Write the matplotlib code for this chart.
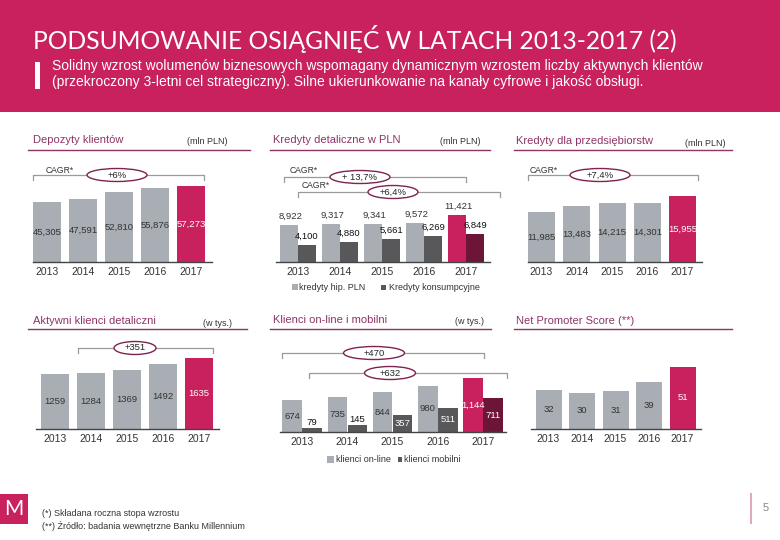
import matplotlib
matplotlib.use('Agg')
import matplotlib.pyplot as plt
from matplotlib import font_manager
from matplotlib.patches import Ellipse, Rectangle
from matplotlib.lines import Line2D

# data
years = ['2013', '2014', '2015', '2016', '2017']
deposits = [45305, 47591, 52810, 55876, 57273]
mortgage = [8922, 9317, 9341, 9572, 11421]
consumer = [4100, 4880, 5661, 6269, 6849]
business = [11985, 13483, 14215, 14301, 15955]
active = [1259, 1284, 1369, 1492, 1635]
online = [674, 735, 844, 980, 1144]
mobile = [79, 145, 357, 511, 711]
nps = [32, 30, 31, 39, 51]

MAG = '#C8215D'
GRAY = '#A8AEB3'
DARK = '#58585A'
MAROON = '#6C1536'
PURPLE = '#8E3468'
TXT = '#333333'

names = {f.name for f in font_manager.fontManager.ttflist}
NARROW = 'Liberation Sans Narrow' if 'Liberation Sans Narrow' in names else 'Liberation Sans'
SANS = 'Liberation Sans'
LIGHT = 'Lato' if 'Lato' in names else 'DejaVu Sans'

VAL = 6.8    # value labels
YEAR = 7.5   # year tick labels

W, H = 780, 540
fig = plt.figure(figsize=(W / 100, H / 100), dpi=100)


def ftext(x, y, s, **kw):
    kw.setdefault('family', NARROW)
    kw.setdefault('va', 'center')
    fig.text(x / W, 1 - y / H, s, **kw)


def fline(xs, ys, **kw):
    fig.add_artist(Line2D([x / W for x in xs], [1 - y / H for y in ys],
                          transform=fig.transFigure, **kw))


def frect(x0, y0, x1, y1, color, z=0):
    fig.add_artist(Rectangle((x0 / W, 1 - y1 / H), (x1 - x0) / W, (y1 - y0) / H,
                             transform=fig.transFigure, color=color, lw=0, zorder=z))


def panel_header(x, y, title, unit, ux, lx0, lx1, ly):
    ftext(x, y, title, fontsize=8, color=PURPLE)
    if unit:
        ftext(ux, y + 2, unit, fontsize=6.5, color=TXT)
    fline([lx0, lx1], [ly, ly], color=PURPLE, lw=1)


def bracket(x0, x1, y, label, cx, ew, cagr=None):
    fline([x0, x0, x1, x1], [y + 5, y, y, y + 5], color='#9A9A9A', lw=0.9)
    fig.add_artist(Ellipse((cx / W, 1 - y / H), ew / W, 13 / H, transform=fig.transFigure,
                           facecolor='white', edgecolor='#7E2352', lw=1, zorder=3))
    ftext(cx, y, label, fontsize=6.8, color='#222222', ha='center', zorder=4)
    if cagr:
        ftext(cagr[0], cagr[1], 'CAGR*', fontsize=6.2, color=TXT)


def bar_axes(left, right, baseline, c0, step, ppu, hpx=120):
    ax = fig.add_axes([left / W, 1 - baseline / H, (right - left) / W, hpx / H])
    ax.set_xlim((left - c0) / step, (right - c0) / step)
    ax.set_ylim(0, hpx / ppu)
    for s in ['top', 'left', 'right']:
        ax.spines[s].set_visible(False)
    ax.spines['bottom'].set_color('#444444')
    ax.spines['bottom'].set_linewidth(1)
    ax.set_yticks([])
    ax.set_xticks(range(len(years)))
    ax.set_xticklabels(years, fontsize=YEAR, family=NARROW, color=TXT)
    ax.tick_params(axis='x', length=0, pad=3.5)
    ax.patch.set_alpha(0)
    return ax


def simple_panel(vals, left, right, baseline, c0, step, bw, ppu, fmt):
    ax = bar_axes(left, right, baseline, c0, step, ppu)
    colors = [GRAY] * (len(vals) - 1) + [MAG]
    ax.bar(range(len(vals)), vals, width=bw / step, color=colors)
    for i, v in enumerate(vals):
        ax.text(i, v / 2, fmt(v), ha='center', va='center', fontsize=VAL, family=NARROW,
                color='white' if i == len(vals) - 1 else TXT)
    return ax


comma = lambda v: f'{v:,}'
plain = lambda v: f'{v}'

# header
frect(0, 0, W, 112, MAG)
ftext(33, 39, 'PODSUMOWANIE OSIĄGNIĘĆ W LATACH 2013-2017 (2)', fontsize=17.7,
      family=LIGHT, color='white')
frect(35, 62, 40, 89, 'white', z=1)
ftext(52, 66, 'Solidny wzrost wolumenów biznesowych wspomagany dynamicznym wzrostem liczby aktywnych klientów',
      fontsize=10, family=SANS, color='white')
ftext(52, 82, '(przekroczony 3-letni cel strategiczny). Silne ukierunkowanie na kanały cyfrowe i jakość obsługi.',
      fontsize=10, family=SANS, color='white')

# Depozyty klientów
panel_header(33, 140, 'Depozyty klientów', '(mln PLN)', 187, 28, 250, 150)
bracket(33, 204, 175, '+6%', 117, 60, cagr=(46, 170))
simple_panel(deposits, 33, 212, 262, 47, 36, 28, 76 / 57273, comma)

# Kredyty detaliczne w PLN
panel_header(273, 140, 'Kredyty detaliczne w PLN', '(mln PLN)', 440, 270, 490, 150)
bracket(284, 466, 177, '+ 13,7%', 360, 60, cagr=(290, 170))
bracket(298, 500, 192, '+6,4%', 393, 50, cagr=(302, 185))
ax = bar_axes(276, 490, 262, 298, 42, 47 / 11421)
off = 9 / 42
bw = 18 / 42
xs = range(len(years))
ax.bar([i - off for i in xs], mortgage, width=bw, color=[GRAY] * 4 + [MAG])
ax.bar([i + off for i in xs], consumer, width=bw, color=[DARK] * 4 + [MAROON])
for i in xs:
    ax.annotate(comma(mortgage[i]), (i - off, mortgage[i]), xytext=(1, 3), textcoords='offset points',
                ha='center', va='bottom', fontsize=VAL, family=NARROW, color=TXT)
    ax.annotate(comma(consumer[i]), (i + off, consumer[i]), xytext=(0, 3), textcoords='offset points',
                ha='center', va='bottom', fontsize=VAL, family=NARROW, color='#111111')
frect(292, 284, 298, 290, GRAY, z=1)
ftext(299, 287, 'kredyty hip. PLN', fontsize=6.5, color=TXT)
frect(381, 285, 386, 290, DARK, z=1)
ftext(389, 287, 'Kredyty konsumpcyjne', fontsize=6.5, color=TXT)

# Kredyty dla przedsiębiorstw
panel_header(516, 141, 'Kredyty dla przedsiębiorstw', '(mln PLN)', 685, 514, 732, 150)
bracket(528, 698, 175, '+7,4%', 600, 60, cagr=(530, 170))
simple_panel(business, 528, 702, 262, 541.5, 35.25, 27, 66 / 15955, comma)

# Aktywni klienci detaliczni
panel_header(33, 321, 'Aktywni klienci detaliczni', '(w tys.)', 203, 28, 247, 329)
bracket(78, 213, 348, '+351', 135, 42)
simple_panel(active, 36, 219, 429, 55, 36, 28, 71 / 1635, plain)

# Klienci on-line i mobilni
panel_header(273, 320, 'Klienci on-line i mobilni', '(w tys.)', 455, 270, 491, 329)
bracket(282, 484, 353, '+470', 374, 61)
bracket(309, 507, 373, '+632', 390, 51)
ax = bar_axes(280, 506, 432, 302, 45.25, 54 / 1144)
off = 10 / 45.25
bw = 19.5 / 45.25
ax.bar([i - off for i in xs], online, width=bw, color=[GRAY] * 4 + [MAG])
ax.bar([i + off for i in xs], mobile, width=bw, color=[DARK] * 4 + [MAROON])
for i in xs:
    ax.text(i - off, online[i] / 2, comma(online[i]), ha='center', va='center', fontsize=VAL,
            family=NARROW, color='white' if i == 4 else TXT)
    if mobile[i] < 200:
        ax.annotate(comma(mobile[i]), (i + off, mobile[i]), xytext=(0, 1), textcoords='offset points',
                    ha='center', va='bottom', fontsize=VAL, family=NARROW, color='#111111')
    else:
        ax.text(i + off, mobile[i] / 2, comma(mobile[i]), ha='center', va='center', fontsize=VAL,
                family=NARROW, color='white')
frect(327, 456, 334, 463, GRAY, z=1)
ftext(336, 459, 'klienci on-line', fontsize=6.5, color=TXT)
frect(398, 457, 402, 462, DARK, z=1)
ftext(404, 459, 'klienci mobilni', fontsize=6.5, color=TXT)

# Net Promoter Score
panel_header(516, 321, 'Net Promoter Score (**)', None, 0, 514, 732, 329)
simple_panel(nps, 531, 701, 429, 548.5, 33.5, 26, 62 / 51, plain)

# footer
frect(0, 494, 28, 524, MAG, z=1)
ftext(14, 509, 'M', fontsize=15, family=LIGHT, color='white', ha='center', zorder=2)
ftext(42, 513, '(*) Składana roczna stopa wzrostu', fontsize=6.5, color=TXT)
ftext(42, 526, '(**) Źródło: badania wewnętrzne Banku Millennium', fontsize=6.5, color=TXT)
fline([751, 751], [494, 523], color='#E3A7BE', lw=1.5)
ftext(763, 508, '5', fontsize=8, family=SANS, color='#888888')

fig.savefig('out.png', dpi=100)
